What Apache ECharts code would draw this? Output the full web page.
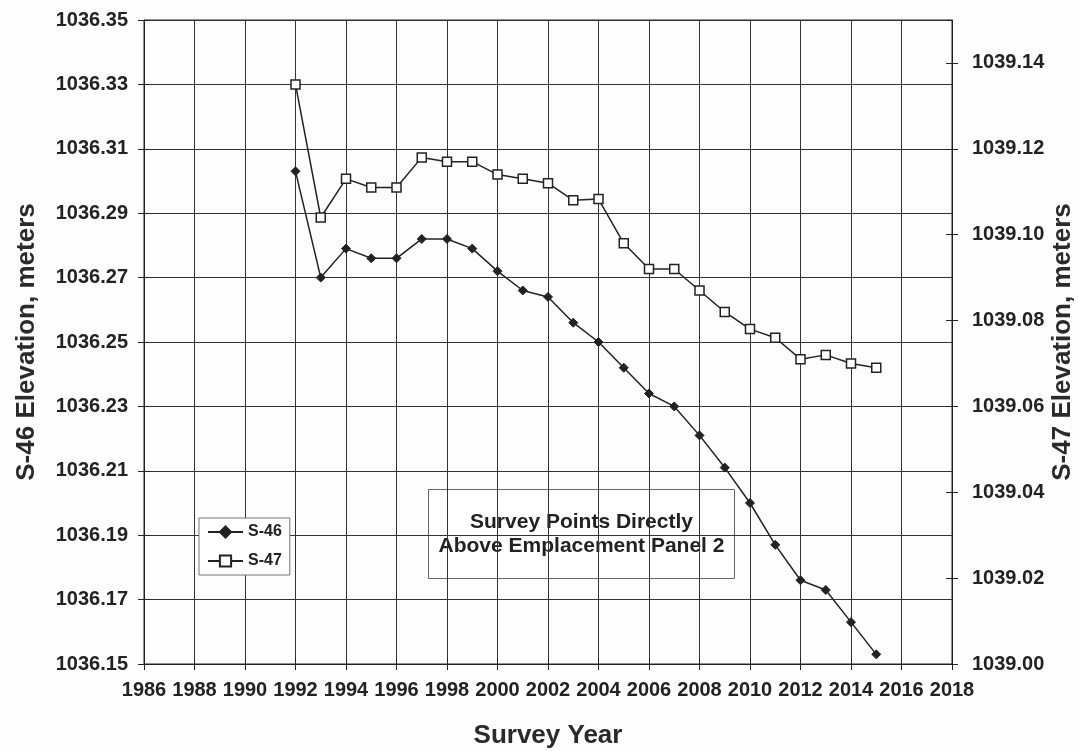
<!DOCTYPE html>
<html>
<head>
<meta charset="utf-8">
<script src="https://cdn.jsdelivr.net/npm/echarts@6/dist/echarts.min.js"></script>
<style>
html,body{margin:0;padding:0;background:#fdfdfd;}
#chart{width:1079px;height:751px;}
</style>
</head>
<body>
<div id="chart"></div>
<script>
// ---- data ----
const years = [1992,1993,1994,1995,1996,1997,1998,1999,2000,2001,2002,2003,2004,2005,2006,2007,2008,2009,2010,2011,2012,2013,2014,2015];
const s46 = [1036.303,1036.270,1036.279,1036.276,1036.276,1036.282,1036.282,1036.279,1036.272,1036.266,1036.264,1036.256,1036.250,1036.242,1036.234,1036.230,1036.221,1036.211,1036.200,1036.187,1036.176,1036.173,1036.163,1036.153];
const s47 = [1039.135,1039.104,1039.113,1039.111,1039.111,1039.118,1039.117,1039.117,1039.114,1039.113,1039.112,1039.108,1039.1083,1039.098,1039.092,1039.092,1039.087,1039.082,1039.078,1039.076,1039.071,1039.072,1039.070,1039.069];
const seriesNames = ['S-46','S-47'];
// axis scales
const xMin = 1986, xMax = 2018, xStep = 2;
const leftBase = 1036.15, leftSpan = 0.20, leftStep = 0.02;
const rightBase = 1039.00, rightSpan = 0.15, rightStep = 0.02;
const xTitle = 'Survey Year';
const leftTitle = 'S-46 Elevation, meters';
const rightTitle = 'S-47 Elevation, meters';
const noteLines = ['Survey Points Directly', 'Above Emplacement Panel 2'];

// ---- chart ----
const FONT = '"Liberation Sans", Arial, Helvetica, sans-serif';
const INK = '#222';
const chart = echarts.init(document.getElementById('chart'), null, {renderer: 'canvas'});

const tickLabel = {fontFamily: FONT, fontWeight: 'bold', fontSize: 20, color: INK};
const titleStyle = {fontFamily: FONT, fontWeight: 'bold', fontSize: 26, color: '#2a2a2a'};

function hiddenTickAxis(base) {
  return Object.assign({
    axisLine: {show: false},
    axisLabel: {show: false},
    splitLine: {show: false},
    axisTick: {show: true, inside: true, length: 6, lineStyle: {color: INK, width: 1}}
  }, base);
}

const option = {
  backgroundColor: '#fdfdfd',
  animation: false,
  grid: {left: 144, right: 127, top: 20, bottom: 87, containLabel: false, outerBoundsMode: 'none',
         show: true, borderColor: INK, borderWidth: 1, backgroundColor: 'transparent'},
  xAxis: [
    {
      type: 'value', min: xMin, max: xMax, interval: xStep, position: 'bottom',
      name: xTitle, nameLocation: 'middle', nameGap: 59, nameTextStyle: titleStyle, nameMoveOverlap: false,
      axisLine: {show: true, lineStyle: {color: INK, width: 1}},
      axisTick: {show: true, inside: false, length: 6, lineStyle: {color: INK, width: 1}},
      axisLabel: Object.assign({margin: 16, formatter: v => String(v)}, tickLabel),
      splitLine: {show: true, lineStyle: {color: '#333', width: 1}}
    },
    hiddenTickAxis({type: 'value', min: xMin, max: xMax, interval: xStep, position: 'bottom'})
  ],
  yAxis: [
    {
      type: 'value', min: 0, max: leftSpan, interval: leftStep, position: 'left',
      name: leftTitle, nameLocation: 'middle', nameRotate: 90, nameGap: 104, nameTextStyle: titleStyle, nameMoveOverlap: false,
      axisLine: {show: true, lineStyle: {color: INK, width: 1}},
      axisTick: {show: true, inside: false, length: 6, lineStyle: {color: INK, width: 1}},
      axisLabel: Object.assign({margin: 16, formatter: v => (leftBase + v).toFixed(2)}, tickLabel),
      splitLine: {show: true, lineStyle: {color: '#333', width: 1}}
    },
    {
      type: 'value', min: 0, max: rightSpan, interval: rightStep, position: 'right',
      name: rightTitle, nameLocation: 'middle', nameRotate: 90, nameGap: 98, nameTextStyle: titleStyle, nameMoveOverlap: false,
      axisLine: {show: true, lineStyle: {color: INK, width: 1}},
      axisTick: {show: true, inside: false, length: 6, lineStyle: {color: INK, width: 1}},
      axisLabel: Object.assign({margin: 20, showMaxLabel: false, formatter: v => (rightBase + v).toFixed(2)}, tickLabel),
      splitLine: {show: false}
    },
    hiddenTickAxis({type: 'value', min: 0, max: leftSpan, interval: leftStep, position: 'left'}),
    hiddenTickAxis({type: 'value', min: 0, max: rightSpan, interval: rightStep, position: 'right'})
  ],
  legend: {
    data: seriesNames,
    orient: 'vertical', left: 199, top: 518,
    backgroundColor: '#fff', borderColor: '#777', borderWidth: 1, borderRadius: 0,
    padding: [6, 8, 6, 8], itemWidth: 35, itemHeight: 14, itemGap: 13,
    textStyle: {fontFamily: FONT, fontWeight: 'bold', fontSize: 16, color: INK},
    selectedMode: false
  },
  graphic: [{
    type: 'group', left: 428, top: 489, z: 100,
    children: [
      {type: 'rect', shape: {x: 0, y: 0, width: 306, height: 89}, style: {fill: '#fff', stroke: '#666', lineWidth: 1}},
      {type: 'text', x: 153, y: 33, style: {text: noteLines[0], font: 'bold 21px ' + FONT, fill: INK, align: 'center', verticalAlign: 'middle'}},
      {type: 'text', x: 153, y: 57, style: {text: noteLines[1], font: 'bold 21px ' + FONT, fill: INK, align: 'center', verticalAlign: 'middle'}}
    ]
  }],
  series: [
    {
      name: seriesNames[0], type: 'line', xAxisIndex: 0, yAxisIndex: 0,
      data: years.map((y, i) => [y, s46[i] - leftBase]),
      symbol: 'diamond', symbolSize: 9, showAllSymbol: true,
      lineStyle: {color: INK, width: 1.5},
      itemStyle: {color: INK, borderColor: INK, borderWidth: 1}
    },
    {
      name: seriesNames[1], type: 'line', xAxisIndex: 0, yAxisIndex: 1,
      data: years.map((y, i) => [y, s47[i] - rightBase]),
      symbol: 'rect', symbolSize: 9, showAllSymbol: true,
      lineStyle: {color: INK, width: 1.5},
      itemStyle: {color: '#fff', borderColor: INK, borderWidth: 1.5}
    }
  ]
};
chart.setOption(option);
</script>
</body>
</html>
